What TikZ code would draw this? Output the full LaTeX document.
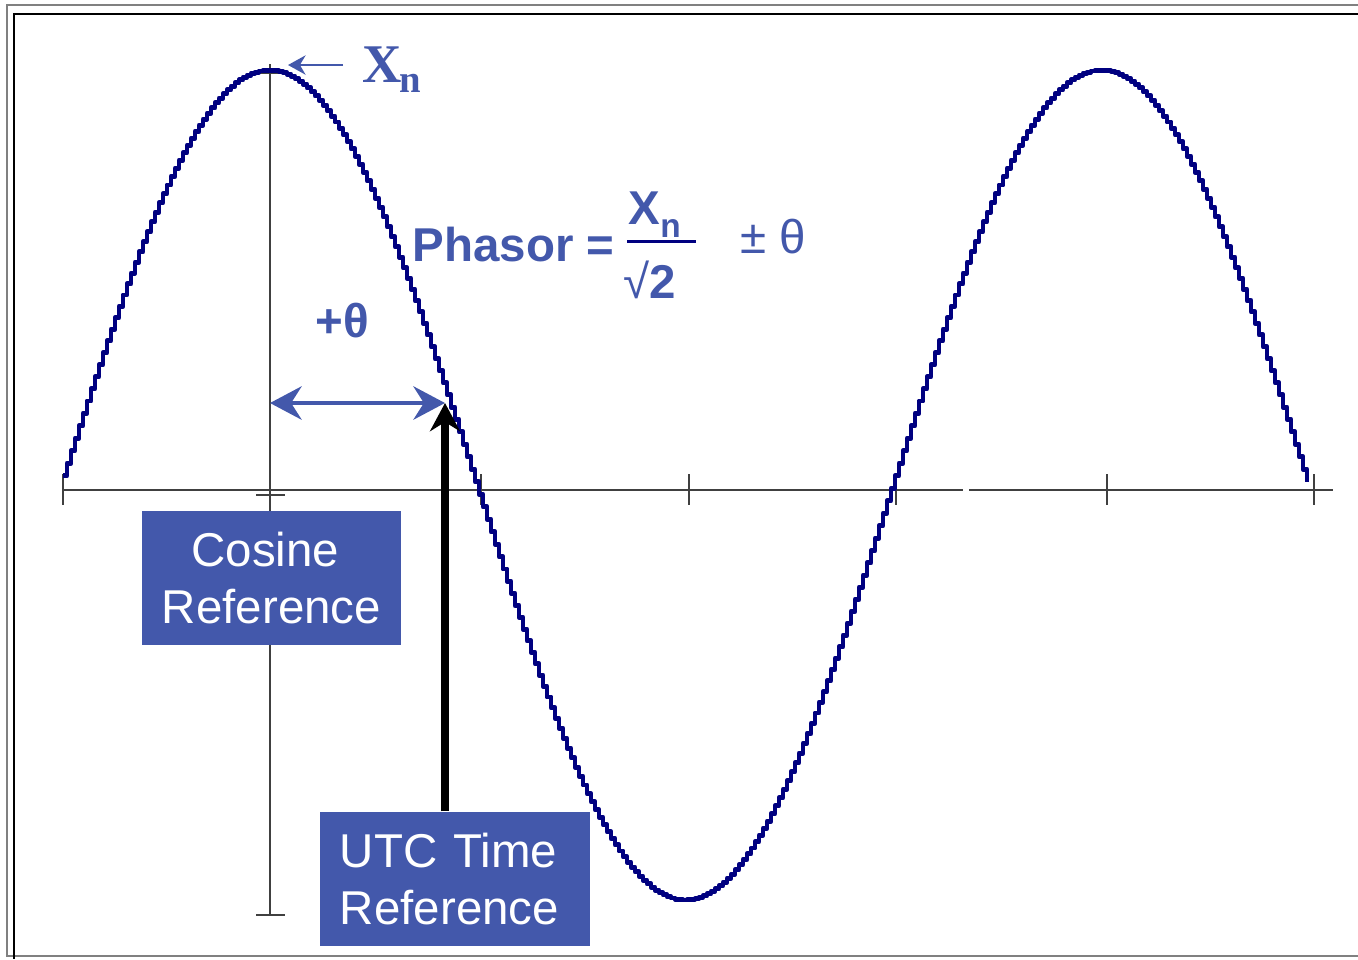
\documentclass[tikz,border=0pt]{standalone}
\usepackage{fontspec}
\setmainfont{Liberation Sans}
\newfontfamily\timesfont{Liberation Serif}
\usetikzlibrary{positioning, arrows.meta, calc}

\definecolor{refblue}{RGB}{67,88,171}
\definecolor{wavenavy}{RGB}{0,0,128}

\tikzset{
  refbox/.style={fill=refblue, text=white, font=\fontsize{13.5}{16.2}\selectfont, minimum height=1.34cm, inner sep=0pt},
  axisline/.style={black!75, line width=0.35pt},
  wave/.style={wavenavy, line width=1.4pt, line join=round},
  lbl/.style={text=refblue, font=\bfseries\fontsize{13.5}{16}\selectfont, inner sep=0pt, anchor=base west},
}

\begin{document}
\begin{tikzpicture}[x=0.01cm, y=-0.01cm]
        \useasboundingbox (0,0) rectangle (1358,959);

        % Frames
        \draw[gray, line width=0.6pt] (1358,5) -- (7,5) -- (7,956) -- (1358,956);
        \draw[black, line width=0.4pt] (1358,14) -- (14,14) -- (14,959);

        % Time axis with ticks
        \draw[axisline] (63,490) -- (963,490);
        \draw[axisline] (969,490) -- (1333,490);
        \foreach \tx in {63,481,689,896,1107,1314} {
          \draw[axisline] (\tx,474) -- (\tx,505);
        }

        % Cosine reference line
        \draw[axisline] (270,64) -- (270,915);
        \foreach \ty in {73,495,915} {
          \draw[axisline] (256,\ty) -- (285,\ty);
        }

        % Sampled waveform
        \draw[wave] plot[const plot, domain=63:1307, samples=312] (\x, {485-415*sin(((\x-60)/832)*360)});

        \coordinate (peak) at (288,65);
        \coordinate (cosref) at (270,403);
        \coordinate (tip) at (445,403);

        % Labels
        \node[text=refblue, font=\timesfont\bfseries\fontsize{15.5}{16}\selectfont, anchor=base west, inner sep=0pt] (xn) at (362,82) {X\kern-0.6pt\raisebox{-3.1pt}{\fontsize{11}{11}\selectfont n}};
        \node[lbl] (phasor) at (412,261) {Phasor =};
        \node[lbl] (num) at (628,224) {X\raisebox{-3.7pt}{\fontsize{9.5}{10}\selectfont n}};
        \node[lbl] (den) at (623,298) {{\mdseries √}2};
        \node[lbl, font=\fontsize{13.5}{16}\selectfont] (pm) at (740,253) {± θ};
        \node[lbl] (plustheta) at (315,337) {+θ};
        \draw[wavenavy, line width=0.85pt] (627,241) -- (696,241);

        % Reference boxes
        \node[refbox, minimum width=2.59cm, align=center] (cosine) at (271.5,578) {Cosine\hspace*{3.5pt}\\Reference};
        \node[refbox, minimum width=2.70cm, text width=2.30cm, align=left] (utc) at (455,879) {UTC Time\\Reference};

        % Arrows
        \draw[refblue, line width=0.6pt, -{Stealth[length=5pt, width=5.5pt]}] (xn.west |- peak) ++(-19,0) -- (peak);
        \draw[refblue, line width=1.1pt, {Stealth[length=9pt, width=9.5pt, inset=3pt]}-{Stealth[length=9pt, width=9.5pt, inset=3pt]}] (cosref) -- (tip);
        \draw[black, line width=2pt, -{Stealth[length=8pt, width=8.5pt]}] (utc.north -| tip) -- (tip);
      \end{tikzpicture}
\end{document}
